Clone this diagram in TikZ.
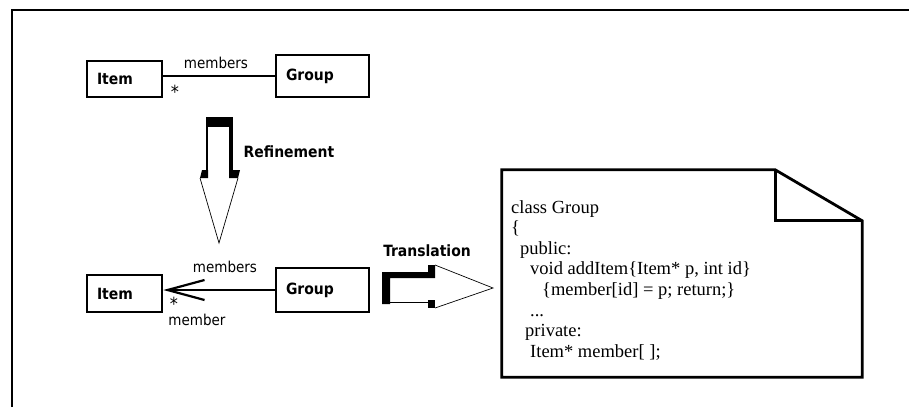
\documentclass[tikz,border=0pt]{standalone}
\usepackage{fontspec}
\setmainfont{DejaVu Sans Condensed}
\newfontfamily\codefont{Liberation Serif}
\usetikzlibrary{arrows.meta}

\begin{document}
\begin{tikzpicture}[x=1pt, y=-1pt,
    umlbox/.style={draw, line width=2.6pt, align=left, inner xsep=10pt, inner ysep=0pt,
      font=\fontsize{15.5}{18}\selectfont\bfseries},
    lbl/.style={font=\fontsize{15}{18}\selectfont},
    mult/.style={anchor=base, inner sep=0pt, font=\fontsize{18}{18}\selectfont},
    blockhead/.style={line width=0.7pt, line join=miter}]
      \useasboundingbox (0,0) rectangle (909,407);
      \draw [line width=1.3pt] (12,407) -- (12,10) -- (909,10);

      % analysis model
      \node [umlbox, text width=55pt, minimum height=36pt] (item1)  at (124.5,79) {Item};
      \node [umlbox, text width=73pt, minimum height=42pt] (group1) at (322.5,76) {Group};
      \draw [line width=2.4pt] (group1.west) -- (group1.west -| item1.east);
      \node [lbl] (role1) at (216,63) {members};
      \node [mult] (mult1) at (175,98.5) {*};

      % refinement arrow
      \fill (206,117) rectangle (233,127);
      \fill (229,117) rectangle (233,178);
      \fill (206,117) rectangle (208,170);
      \fill (202,170) -- (208,170) -- (208,178) -- (200,178) -- cycle;
      \fill (229,170) -- (240,170) -- (238,178) -- (229,178) -- cycle;
      \draw [blockhead] (200,178) -- (219,243) -- (238,178);
      \node [lbl, font=\fontsize{15.5}{18}\selectfont\bfseries] (refine) at (289,152) {Refinement};

      % design model
      \node [umlbox, text width=55pt, minimum height=37pt] (item2)  at (124.5,293.5) {Item};
      \node [umlbox, text width=73pt, minimum height=44pt] (group2) at (322.5,290) {Group};
      \draw [-{Straight Barb[length=37pt,width=20pt]}, line width=2.2pt]
        (group2.west) -- (group2.west -| item2.east);
      \node [lbl] (role2)  at (225,267) {members};
      \node [mult] (mult2) at (174,310.5) {*};
      \node [lbl, inner sep=1pt] (name2) at (197,320) {member};

      % translation arrow
      \fill (382,272) -- (428,272) -- (428,265) -- (435,265) -- (435,278) -- (390,278)
        -- (390,304) -- (382,304) -- cycle;
      \fill (428,300) rectangle (435,308);
      \draw [blockhead] (390,302) -- (428,302);
      \draw [blockhead] (435,265) -- (493,288) -- (435,308);
      \node [lbl, font=\fontsize{15.5}{18}\selectfont\bfseries] (transl) at (427,251) {Translation};

      % code note
      \node [minimum width=360pt, minimum height=207pt, inner sep=0pt] (note) at (682,273.5) {};
      \draw [line width=2.8pt, line join=miter] (note.south west) -- (note.north west)
        -- ([xshift=-87pt]note.north east) -- ([yshift=-51pt]note.north east)
        -- (note.south east) -- cycle;
      \draw [line width=2.8pt] ([xshift=-87pt]note.north east) |- ([yshift=-51pt]note.north east);
      \node [anchor=north west, align=left, inner sep=0pt,
        font=\codefont\fontsize{18.5}{20.6}\selectfont] (code) at (511,200)
        {class Group\\
         \{\\
         \hspace*{9pt}public:\\
         \hspace*{19pt}void addItem\{Item* p, int id\}\\
         \hspace*{31pt}\{member[id] = p; return;\}\\
         \hspace*{19pt}...\\
         \hspace*{14pt}private:\\
         \hspace*{19pt}Item* member[ ];};
    \end{tikzpicture}
\end{document}
